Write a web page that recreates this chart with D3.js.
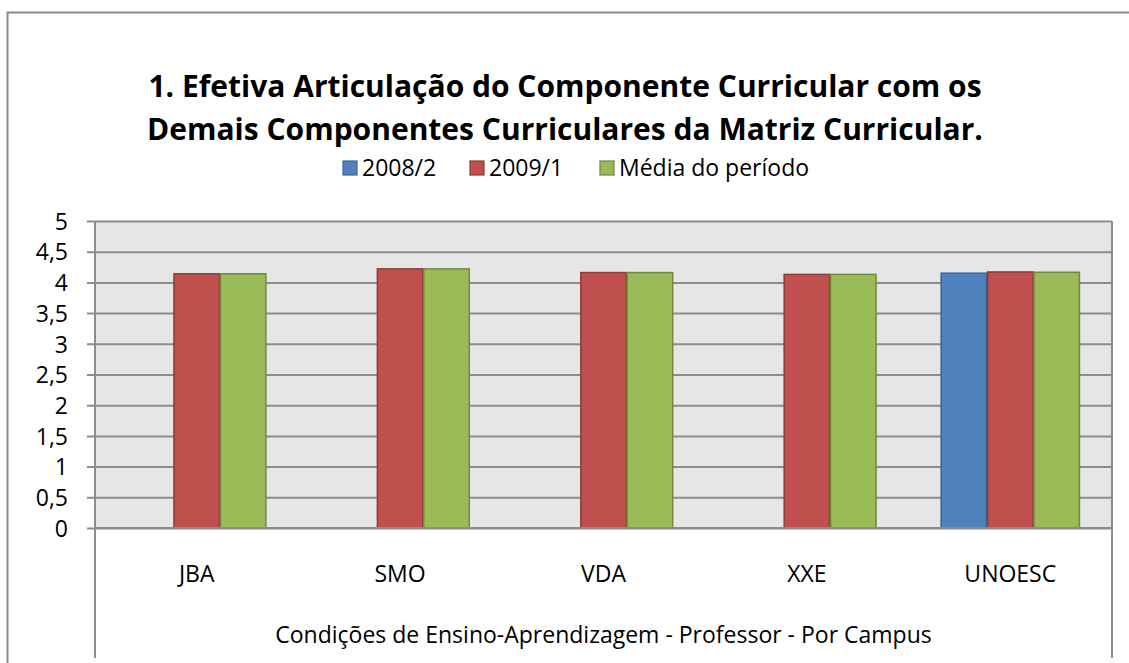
<!DOCTYPE html>
<html>
<head>
<meta charset="utf-8">
<script src="https://cdnjs.cloudflare.com/ajax/libs/d3/7.8.5/d3.min.js"></script>
<style>
  body { margin: 0; background: #fff; }
  svg { display: block; font-family: 'Open Sans', sans-serif; }
</style>
</head>
<body>
<script>
const categories = ['JBA', 'SMO', 'VDA', 'XXE', 'UNOESC']
const seriesNames = ['2008/2', '2009/1', 'Média do período']
const values2008 = [null, null, null, null, 4.15]
const values2009 = [4.14, 4.22, 4.16, 4.13, 4.17]
const valuesMedia = [4.14, 4.22, 4.16, 4.13, 4.165]
const yTicks = [0, 0.5, 1, 1.5, 2, 2.5, 3, 3.5, 4, 4.5, 5]
const titleLines = [
  '1. Efetiva Articulação do Componente Curricular com os',
  'Demais Componentes Curriculares da Matriz Curricular.',
]
const axisTitle = 'Condições de Ensino-Aprendizagem - Professor - Por Campus'

const fills = ['#4f81bd', '#c0504d', '#9bbb59']
const strokes = ['#3a6595', '#8e3b39', '#71893f']

const width = 1129
const height = 663
const plot = { left: 95, right: 1112, top: 221, bottom: 528 }
const labelSize = 23

const svg = d3.select('body').append('svg')
  .attr('width', width)
  .attr('height', height)

// chart frame
svg.append('path')
  .attr('d', `M7.5,${height} V12.5 H${width}`)
  .attr('fill', 'none')
  .attr('stroke', '#8c8c8c')
  .attr('stroke-width', 2)

svg.append('g')
  .selectAll('text')
  .data(titleLines)
  .enter()
  .append('text')
  .attr('x', 565)
  .attr('y', (d, i) => 97 + i * 43)
  .attr('text-anchor', 'middle')
  .attr('font-size', 30)
  .attr('font-weight', 'bold')
  .text((d) => d)

const x0 = d3.scaleBand().domain(categories).range([plot.left, plot.right])
const x1 = d3.scaleBand().domain(seriesNames)
  .range([0, x0.bandwidth()]).paddingOuter(0.69)
const y = d3.scaleLinear().domain([0, 5]).range([plot.bottom, plot.top])

svg.append('rect')
  .attr('x', plot.left)
  .attr('y', plot.top)
  .attr('width', plot.right - plot.left)
  .attr('height', plot.bottom - plot.top)
  .attr('fill', '#e6e6e6')

// gridlines and y axis
const yAxis = d3.axisLeft(y)
  .tickValues(yTicks)
  .tickSize(plot.right - plot.left + 8)
  .tickPadding(19)
  .tickFormat((d) => String(d).replace('.', ','))

const yg = svg.append('g')
  .attr('transform', `translate(${plot.right},0)`)
  .call(yAxis)
yg.select('.domain').remove()
yg.selectAll('line').attr('stroke', '#8c8c8c').attr('stroke-width', 2)
yg.selectAll('text')
  .attr('font-size', labelSize)
  .attr('fill', '#000')
  .attr('font-family', "'Open Sans', sans-serif")
  .attr('dy', '0.36em')

// bars
const series = [values2008, values2009, valuesMedia]
series.forEach((vals, s) => {
  svg.append('g')
    .selectAll('rect')
    .data(categories.map((c, i) => ({ c, v: vals[i] })).filter((d) => d.v != null))
    .enter()
    .append('rect')
    .attr('x', (d) => x0(d.c) + x1(seriesNames[s]) + 0.5)
    .attr('y', (d) => y(d.v))
    .attr('width', x1.bandwidth() - 1)
    .attr('height', (d) => y(0) - y(d.v))
    .attr('fill', fills[s])
    .attr('stroke', strokes[s])
    .attr('stroke-width', 1.5)
})

// category axis
svg.append('line')
  .attr('x1', plot.left).attr('x2', plot.right)
  .attr('y1', plot.bottom).attr('y2', plot.bottom)
  .attr('stroke', '#8c8c8c').attr('stroke-width', 2)
svg.append('g')
  .selectAll('line')
  .data([plot.left, plot.right])
  .enter()
  .append('line')
  .attr('x1', (d) => d).attr('x2', (d) => d)
  .attr('y1', plot.top).attr('y2', 658)
  .attr('stroke', '#8c8c8c').attr('stroke-width', 2)

svg.append('g')
  .selectAll('text')
  .data(categories)
  .enter()
  .append('text')
  .attr('x', (d) => x0(d) + x0.bandwidth() / 2)
  .attr('y', 582)
  .attr('text-anchor', 'middle')
  .attr('font-size', labelSize)
  .text((d) => d)

svg.append('text')
  .attr('x', (plot.left + plot.right) / 2)
  .attr('y', 643)
  .attr('text-anchor', 'middle')
  .attr('font-size', labelSize)
  .text(axisTitle)

// legend
const legendX = [343, 470, 600]
const legend = svg.append('g')
  .selectAll('g')
  .data(seriesNames)
  .enter()
  .append('g')
  .attr('transform', (d, i) => `translate(${legendX[i]},161)`)
legend.append('rect')
  .attr('width', 14).attr('height', 14)
  .attr('fill', (d, i) => fills[i])
  .attr('stroke', (d, i) => strokes[i])
  .attr('stroke-width', 1.2)
legend.append('text')
  .attr('x', 19)
  .attr('y', 15)
  .attr('font-size', labelSize)
  .text((d) => d)
</script>
</body>
</html>
